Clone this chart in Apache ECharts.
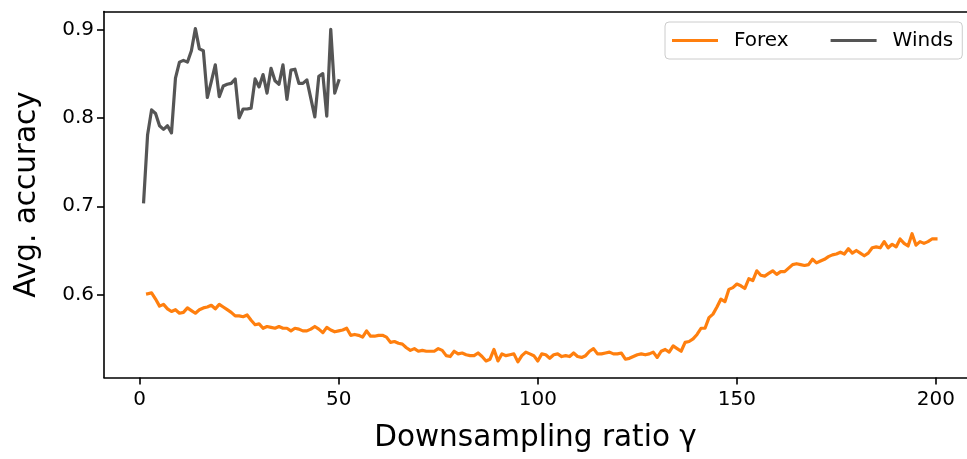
<!DOCTYPE html>
<html>
<head>
<meta charset="utf-8">
<script src="https://cdn.jsdelivr.net/npm/echarts@6/dist/echarts.min.js"></script>
<style>
  html, body { margin: 0; padding: 0; background: #fff; }
  #chart { width: 967px; height: 459px; }
</style>
</head>
<body>
<div id="chart"></div>
<script>
// Average accuracy against the downsampling ratio for two datasets.
const seriesNames = ['Forex', 'Winds'];

// Forex: ratios 2..200
const forexFirstRatio = 2;
const forexAccuracy = [
  0.601,0.602,0.595,0.587,0.589,0.584,0.581,0.583,0.579,0.580,
  0.585,0.582,0.579,0.583,0.585,0.586,0.588,0.584,0.589,0.586,
  0.583,0.580,0.576,0.576,0.575,0.577,0.571,0.566,0.567,0.562,
  0.564,0.563,0.562,0.564,0.562,0.562,0.559,0.562,0.561,0.559,
  0.559,0.561,0.564,0.561,0.557,0.563,0.560,0.558,0.559,0.560,
  0.562,0.554,0.555,0.554,0.552,0.559,0.553,0.553,0.554,0.554,
  0.552,0.546,0.547,0.545,0.544,0.540,0.537,0.539,0.536,0.537,
  0.536,0.536,0.536,0.539,0.537,0.531,0.530,0.536,0.533,0.534,
  0.532,0.531,0.531,0.534,0.530,0.525,0.527,0.538,0.525,0.533,
  0.531,0.532,0.533,0.524,0.531,0.535,0.533,0.531,0.525,0.533,
  0.532,0.528,0.532,0.533,0.530,0.531,0.530,0.534,0.530,0.529,
  0.531,0.536,0.539,0.533,0.533,0.534,0.535,0.533,0.533,0.534,
  0.527,0.528,0.530,0.532,0.533,0.532,0.533,0.535,0.529,0.536,
  0.538,0.535,0.542,0.539,0.536,0.546,0.547,0.550,0.555,0.562,
  0.562,0.574,0.578,0.586,0.595,0.592,0.606,0.608,0.612,0.610,
  0.607,0.618,0.616,0.627,0.622,0.621,0.624,0.627,0.623,0.626,
  0.626,0.630,0.634,0.635,0.634,0.633,0.634,0.640,0.636,0.638,
  0.640,0.643,0.645,0.646,0.648,0.646,0.652,0.647,0.650,0.647,
  0.644,0.647,0.653,0.654,0.653,0.660,0.653,0.657,0.654,0.663,
  0.658,0.655,0.669,0.656,0.660,0.658,0.660,0.663,0.663
];

// Winds: ratios 1..50
const windsFirstRatio = 1;
const windsAccuracy = [
  0.705,0.781,0.809,0.805,0.791,0.787,0.791,0.783,0.845,0.863,
  0.865,0.863,0.876,0.901,0.878,0.876,0.823,0.841,0.860,0.824,
  0.836,0.838,0.839,0.844,0.800,0.810,0.810,0.811,0.844,0.835,
  0.849,0.828,0.856,0.842,0.838,0.860,0.821,0.854,0.855,0.839,
  0.839,0.843,0.822,0.801,0.847,0.850,0.802,0.900,0.828,0.842
];

const xTicks = [0, 50, 100, 150, 200];
const yTicks = [0.6, 0.7, 0.8, 0.9];

const toPairs = (first, values) => values.map((v, i) => [first + i, v]);

const FONT = 'DejaVu Sans';
const X_MIN = -8.95, X_MAX = 207.8;
const spine = { show: true, onZero: false, lineStyle: { color: '#000', width: 1.6 } };

const chart = echarts.init(document.getElementById('chart'), null, { renderer: 'canvas' });

chart.setOption({
  animation: false,
  backgroundColor: '#ffffff',
  grid: { left: 104, top: 11.5, right: 0, bottom: 81.5, containLabel: false },
  legend: {
    data: seriesNames,
    left: 665, top: 22,
    orient: 'horizontal',
    icon: 'rect',
    itemWidth: 46, itemHeight: 3,
    itemGap: 42,
    padding: [7, 9, 7, 7],
    backgroundColor: 'rgba(255,255,255,0.8)',
    borderColor: '#cccccc', borderWidth: 1, borderRadius: 4,
    textStyle: { fontFamily: FONT, fontSize: 20, color: '#000', lineHeight: 23, padding: [0, 0, 0, 11] }
  },
  xAxis: [
    {
      type: 'value',
      min: X_MIN, max: X_MAX,
      name: 'Downsampling ratio γ',
      nameLocation: 'middle',
      nameGap: 46,
      nameTextStyle: { fontFamily: FONT, fontSize: 29.5, color: '#000', lineHeight: 30 },
      splitLine: { show: false },
      axisLine: spine,
      axisTick: { show: true, length: 7, lineStyle: { color: '#000', width: 1.6 }, customValues: xTicks },
      axisLabel: { fontFamily: FONT, fontSize: 20, color: '#000', margin: 12, customValues: xTicks }
    },
    {
      // top frame line
      type: 'value', position: 'top',
      min: X_MIN, max: X_MAX,
      splitLine: { show: false },
      axisLine: spine,
      axisTick: { show: false },
      axisLabel: { show: false }
    }
  ],
  yAxis: {
    type: 'value',
    min: 0.5063, max: 0.9203,
    name: 'Avg. accuracy',
    nameLocation: 'middle',
    nameGap: 62,
    nameTextStyle: { fontFamily: FONT, fontSize: 29.5, color: '#000', lineHeight: 30 },
    splitLine: { show: false },
    axisLine: spine,
    axisTick: { show: true, length: 7, lineStyle: { color: '#000', width: 1.6 }, customValues: yTicks },
    axisLabel: {
      fontFamily: FONT, fontSize: 20, color: '#000', margin: 10, customValues: yTicks,
      formatter: v => v.toFixed(1)
    }
  },
  series: [
    {
      name: seriesNames[0], type: 'line', xAxisIndex: 0,
      data: toPairs(forexFirstRatio, forexAccuracy),
      symbol: 'none', showSymbol: false,
      color: '#ff7f0e',
      lineStyle: { color: '#ff7f0e', width: 3.2, join: 'round', cap: 'square' },
      z: 2
    },
    {
      name: seriesNames[1], type: 'line', xAxisIndex: 0,
      data: toPairs(windsFirstRatio, windsAccuracy),
      symbol: 'none', showSymbol: false,
      color: '#555555',
      lineStyle: { color: '#555555', width: 3.2, join: 'round', cap: 'square' },
      z: 3
    }
  ]
});
</script>
</body>
</html>
